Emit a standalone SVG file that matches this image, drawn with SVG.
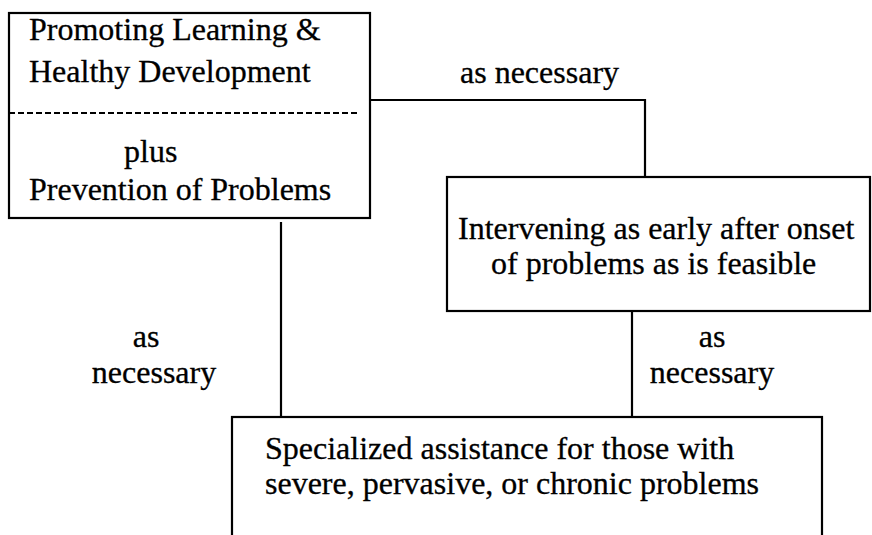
<svg xmlns="http://www.w3.org/2000/svg" width="872" height="535" viewBox="0 0 872 535">
  <style>
    .box { fill: #fff; stroke: #000; stroke-width: 2.2; }
    .wire { fill: none; stroke: #000; stroke-width: 2.2; }
    .dash { stroke: #000; stroke-width: 2; stroke-dasharray: 6 3; }
    text { font-family: "Liberation Serif", "Times New Roman", serif; font-size: 32px; fill: #000; stroke: #000; stroke-width: 0.3; }
    .mid { text-anchor: middle; }
  </style>
  <rect width="872" height="535" fill="#fff"/>

  <g id="connectors">
    <polyline class="wire" points="370,100 645,100 645,177"/>
    <line class="wire" x1="281" y1="222" x2="281" y2="417"/>
    <line class="wire" x1="632" y1="311" x2="632" y2="417"/>
    <text x="460" y="83">as necessary</text>
    <text x="146" y="347" class="mid">as</text>
    <text x="154" y="383" class="mid">necessary</text>
    <text x="712" y="347" class="mid">as</text>
    <text x="712" y="383" class="mid">necessary</text>
  </g>

  <g id="promoting">
    <rect class="box" x="9" y="13" width="361" height="205"/>
    <line class="dash" x1="9" y1="113" x2="357" y2="113"/>
    <text x="29" y="40">Promoting Learning &amp;</text>
    <text x="29" y="82">Healthy Development</text>
    <text x="124" y="162">plus</text>
    <text x="29" y="200">Prevention of Problems</text>
  </g>

  <g id="intervening">
    <rect class="box" x="447" y="177" width="423" height="134"/>
    <text x="458" y="239">Intervening as early after onset</text>
    <text x="491" y="274">of problems as is feasible</text>
  </g>

  <g id="specialized">
    <rect class="box" x="232" y="417" width="590" height="140"/>
    <text x="265" y="459">Specialized assistance for those with</text>
    <text x="265" y="494">severe, pervasive, or chronic problems</text>
  </g>
</svg>
